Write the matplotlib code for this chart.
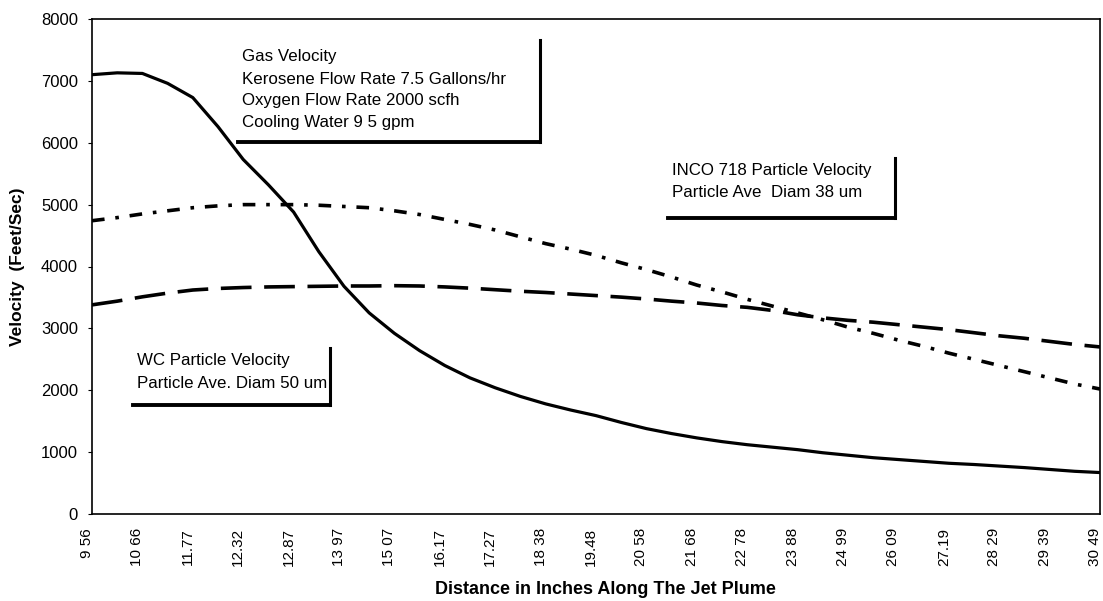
import matplotlib
matplotlib.use("Agg")
import matplotlib.pyplot as plt
import matplotlib.transforms as mtrans
from matplotlib.lines import Line2D
from matplotlib.patches import Rectangle

plt.rcParams['font.family'] = ['Liberation Sans', 'DejaVu Sans']

tick_labels = ["9 56", "10 66", "11.77", "12.32", "12.87", "13 97", "15 07",
               "16.17", "17.27", "18 38", "19.48", "20 58", "21 68", "22 78",
               "23 88", "24 99", "26 09", "27.19", "28 29", "29 39", "30 49"]

# readings taken every half label step
pos = [i / 2 for i in range(41)]

gas = [7100, 7130, 7120, 6960, 6730, 6260, 5730, 5320, 4880, 4240, 3680,
       3250, 2920, 2640, 2400, 2200, 2040, 1900, 1780, 1680, 1590, 1480,
       1380, 1300, 1230, 1170, 1120, 1080, 1040, 990, 950, 910, 880, 850,
       820, 800, 775, 750, 720, 690, 670]

inco = [4740, 4790, 4850, 4900, 4950, 4980, 5000, 5000, 5000, 4990, 4970,
        4950, 4900, 4840, 4760, 4680, 4590, 4480, 4370, 4280, 4180, 4060,
        3950, 3830, 3700, 3590, 3470, 3360, 3250, 3140, 3020, 2920, 2810,
        2710, 2600, 2500, 2400, 2300, 2200, 2100, 2020]

wc = [3380, 3440, 3510, 3570, 3620, 3645, 3660, 3670, 3675, 3680, 3685,
      3685, 3690, 3685, 3670, 3650, 3625, 3600, 3580, 3555, 3530, 3505,
      3475, 3440, 3410, 3370, 3340, 3290, 3220, 3170, 3130, 3100, 3060,
      3020, 2980, 2930, 2880, 2840, 2790, 2740, 2700]

W, H = 1103, 601
fig = plt.figure(figsize=(W / 100, H / 100), dpi=100)
ax = fig.add_axes([92 / W, 1 - 514 / H, 1008 / W, 495 / H])

ax.plot(pos, gas, color="black", lw=2.3, solid_capstyle="round")
ax.plot(pos, inco, color="black", lw=2.6, linestyle=(0, (3.5, 3, 1, 3)))
ax.plot(pos, wc, color="black", lw=2.6, linestyle=(0, (8.5, 3.5)))

ax.set_xlim(0, 20)
ax.set_ylim(0, 8000)
ax.set_xticks(range(len(tick_labels)))
ax.set_xticklabels(tick_labels, rotation=90, fontsize=11)
ax.set_yticks(range(0, 8001, 1000))
ax.tick_params(axis="y", labelsize=12, length=3, width=0.8, pad=7)
ax.tick_params(axis="x", length=0, pad=10)
# rotated labels sit a little left of their category in the original
shift = mtrans.ScaledTranslation(-5 / 100, 0, fig.dpi_scale_trans)
for lab in ax.get_xticklabels():
    lab.set_transform(lab.get_transform() + shift)
for s in ax.spines.values():
    s.set_linewidth(1.2)

ax.set_ylabel("Velocity  (Feet/Sec)", fontsize=12.5, fontweight="bold")
ax.yaxis.set_label_coords(-0.0665, 0.5)
ax.set_xlabel("Distance in Inches Along The Jet Plume", fontsize=13,
              fontweight="bold")
ax.xaxis.set_label_coords(0.509, -0.135)


def fx(x):
    return x / W


def fy(y):
    return 1 - y / H


def note(lines, x0, y0, step, right, bottom, top):
    clip = Rectangle((fx(x0 - 6), fy(bottom)), fx(right - x0 + 5),
                     fy(top) - fy(bottom), transform=fig.transFigure,
                     visible=False)
    fig.add_artist(clip)
    for k, t in enumerate(lines):
        txt = fig.text(fx(x0), fy(y0 + k * step), t, fontsize=12.2,
                       va="center", ha="left")
        txt.set_clip_path(clip)
    fig.add_artist(Line2D([fx(right), fx(right)], [fy(top), fy(bottom)],
                          color="black", lw=2.2))
    fig.add_artist(Line2D([fx(x0 - 4), fx(right)], [fy(bottom), fy(bottom)],
                          color="black", lw=2.8))


note(["Gas Velocity", "Kerosene Flow Rate 7.5 Gallons/hr",
      "Oxygen Flow Rate 2000 scfh", "Cooling Water 9 5 gpm"],
     242, 57, 22, 540, 142, 40)
note(["INCO 718 Particle Velocity", "Particle Ave  Diam 38 um"],
     672, 170, 23, 895, 218, 158)
note(["WC Particle Velocity", "Particle Ave. Diam 50 um"],
     137, 360, 23, 330, 405, 348)

fig.savefig("out.png", dpi=100)
